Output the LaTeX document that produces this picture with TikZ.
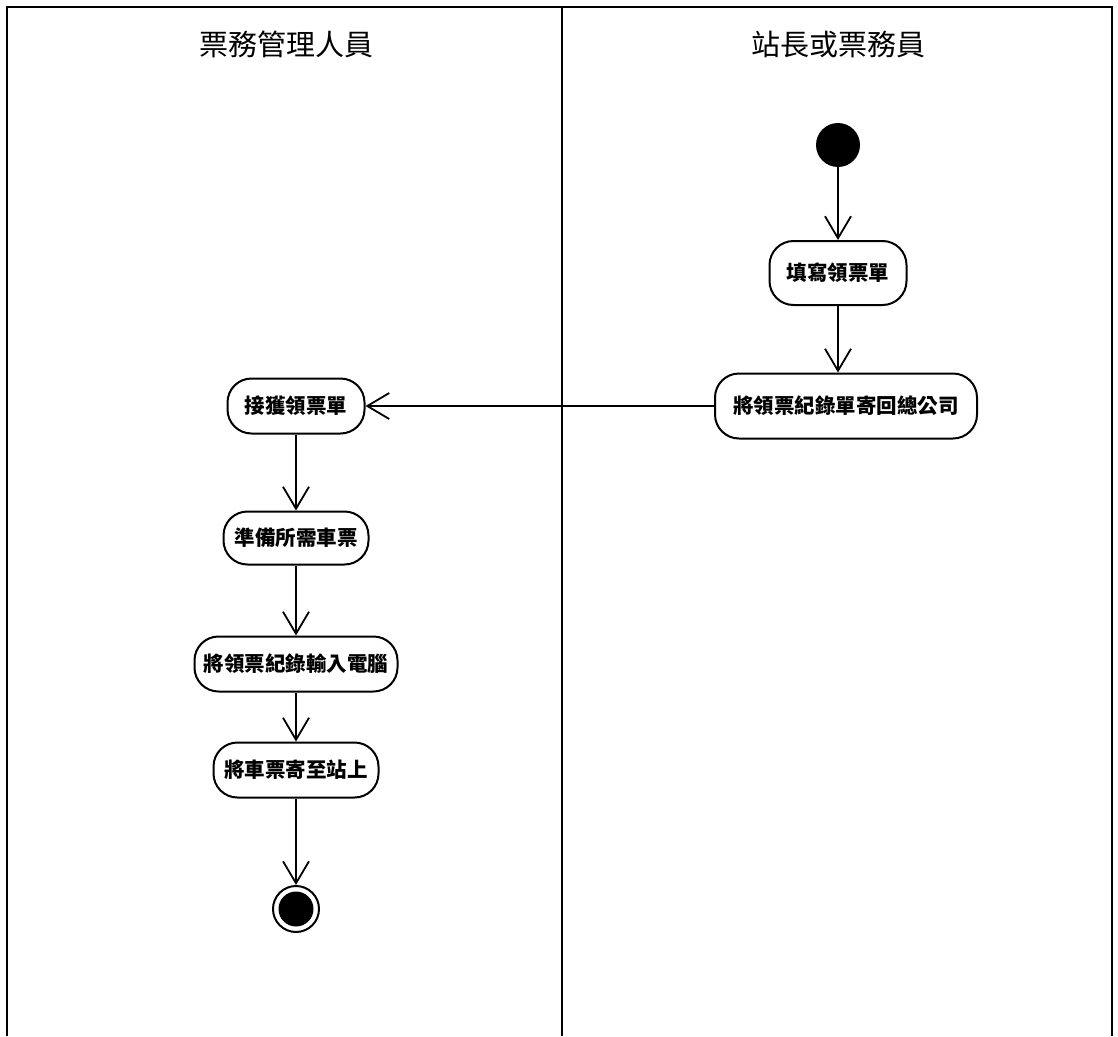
\documentclass[tikz,border=0pt]{standalone}
\usepackage{fontspec}
\newfontfamily\cjk{Noto Sans CJK TC}
\usetikzlibrary{arrows.meta}
\tikzset{
  lane/.style={line width=2.2pt},
  act/.style={draw, line width=2pt, rounded corners=24pt, inner sep=0pt,
    font=\cjk\bfseries\fontsize{20.5}{24}\selectfont},
  flow/.style={line width=1.8pt, -{Straight Barb[length=22pt,width=26pt,line width=1.8pt]}},
  title/.style={font=\cjk\fontsize{29}{34}\selectfont}
}
\begin{document}
\begin{tikzpicture}[x=1pt,y=-1pt]
\useasboundingbox (0,0) rectangle (1118,1036);
\draw[lane] (7,1036) -- (7,7) -- (1112,7) -- (1112,1036);
\draw[lane] (562,7) -- (562,1036);
\node[title] (t1) at (286,44) {票務管理人員};
\node[title] (t2) at (838,44) {站長或票務員};

\node[circle, fill=black, minimum size=44pt, inner sep=0pt] (start) at (838,145) {};
\node[act, minimum width=137pt, minimum height=64pt] (n1) at (838,273) {填寫領票單};
\node[act, minimum width=262pt, minimum height=65pt] (n2) at (846,406) {將領票紀錄單寄回總公司};

\node[act, minimum width=137pt, minimum height=55pt] (m1) at (296,406) {接獲領票單};
\node[act, minimum width=145pt, minimum height=53pt] (m2) at (296,538) {準備所需車票};
\node[act, minimum width=203pt, minimum height=55pt] (m3) at (296,664) {將領票紀錄輸入電腦};
\node[act, minimum width=165pt, minimum height=55pt] (m4) at (296,770) {將車票寄至站上};
\node[circle, draw, line width=2pt, minimum size=46pt, inner sep=0pt] (end) at (296,909) {};
\fill (end.center) circle (17.5);

\draw[flow] (start) -- (n1);
\draw[flow] (n1) -- (n1 |- n2.north);
\draw[flow] (n2) -- (m1);
\draw[flow] (m1) -- (m2);
\draw[flow] (m2) -- (m3);
\draw[flow] (m3) -- (m4);
\draw[flow] (m4) -- (end);
\end{tikzpicture}
\end{document}
